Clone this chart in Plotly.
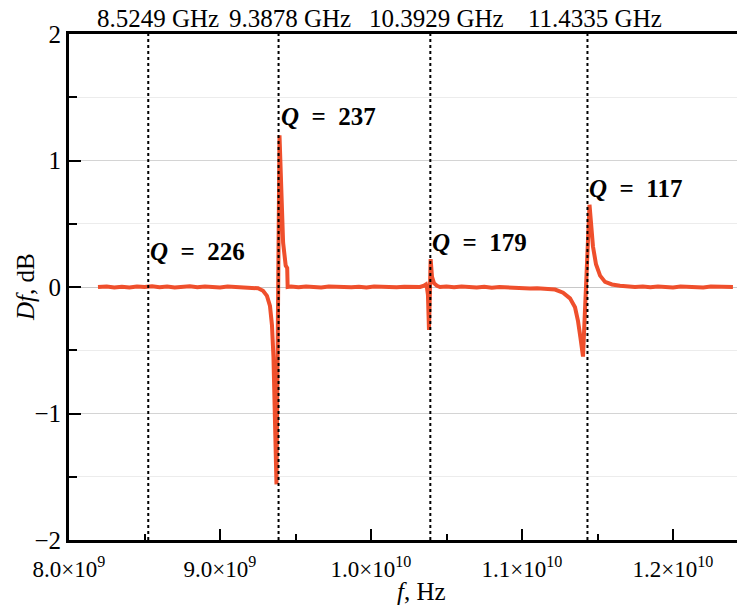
import plotly.graph_objects as go

# Frequency (GHz) and Df (dB)
freq_ghz = [8.192, 8.25, 8.30, 8.35, 8.40, 8.45, 8.50, 8.55, 8.60, 8.65, 8.70, 8.75, 8.80, 8.85,
            8.90, 8.95, 9.00, 9.05, 9.10, 9.15, 9.20, 9.252, 9.285, 9.311, 9.331, 9.344, 9.354,
            9.364, 9.371, 9.374, 9.394, 9.405, 9.418, 9.435, 9.445, 9.448, 9.47, 9.52, 9.57,
            9.62, 9.67, 9.72, 9.77, 9.82, 9.87, 9.92, 9.97, 10.02, 10.07, 10.12, 10.17, 10.22,
            10.27, 10.325, 10.351, 10.364, 10.371, 10.377, 10.384, 10.395, 10.404, 10.417,
            10.437, 10.457, 10.50, 10.55, 10.60, 10.65, 10.70, 10.75, 10.80, 10.85, 10.90,
            10.95, 11.00, 11.053, 11.10, 11.152, 11.219, 11.272, 11.318, 11.351, 11.371,
            11.387, 11.401, 11.404, 11.447, 11.457, 11.470, 11.490, 11.517, 11.550, 11.596,
            11.649, 11.70, 11.748, 11.80, 11.85, 11.90, 11.95, 12.00, 12.05, 12.10, 12.15,
            12.20, 12.25, 12.30, 12.35, 12.397]
df_db = [0.0, 0.004, -0.003, 0.002, -0.004, 0.003, 0.0, 0.005, -0.002, 0.004, -0.003, 0.002,
         0.005, -0.002, 0.003, 0.0, -0.003, 0.004, 0.001, -0.002, 0.0, -0.01, -0.03, -0.07,
         -0.15, -0.30, -0.55, -0.95, -1.30, -1.56, 1.20, 0.75, 0.35, 0.17, 0.15, 0.0, 0.003,
         -0.002, 0.004, 0.0, -0.003, 0.003, 0.0, 0.004, -0.002, 0.002, -0.003, 0.003, 0.0,
         0.004, -0.002, 0.002, 0.0, 0.0, 0.01, 0.02, -0.01, -0.06, -0.34, 0.22, 0.08, 0.03,
         0.01, 0.0, 0.003, -0.002, 0.004, 0.0, -0.003, 0.002, -0.005, 0.0, -0.004, -0.008,
         -0.01, -0.012, -0.01, -0.015, -0.02, -0.045, -0.09, -0.16, -0.27, -0.40, -0.55,
         -0.55, 0.65, 0.50, 0.32, 0.18, 0.09, 0.04, 0.02, 0.01, 0.005, 0.0, 0.004, -0.002,
         0.003, 0.0, -0.003, 0.004, 0.0, 0.002, -0.003, 0.003, 0.0, 0.002, 0.0]

marker_ghz = [8.5249, 9.3878, 10.3929, 11.4335]
marker_labels = ["8.5249 GHz", "9.3878 GHz", "10.3929 GHz", "11.4335 GHz"]
marker_label_shift = [10, 11, 6, 8]

q_values = [226, 237, 179, 117]
q_label_y = [0.28, 1.35, 0.35, 0.78]

x_tickvals = [8.0e9, 9.0e9, 1.0e10, 1.1e10, 1.2e10]
x_ticktext = ["8.0×10<sup>9</sup>", "9.0×10<sup>9</sup>", "1.0×10<sup>10</sup>",
              "1.1×10<sup>10</sup>", "1.2×10<sup>10</sup>"]
y_tickvals = [-2, -1, 0, 1, 2]
y_ticktext = ["−2", "−1", "0", "1", "2"]

FONT = "Liberation Serif"
LINE_COLOR = "#EF4F2C"

freq_hz = [f * 1e9 for f in freq_ghz]
marker_hz = [f * 1e9 for f in marker_ghz]

fig = go.Figure()
fig.add_trace(go.Scatter(x=freq_hz, y=df_db, mode="lines",
                         line=dict(color=LINE_COLOR, width=4), showlegend=False))

for m in marker_hz:
    fig.add_shape(type="line", xref="x", yref="paper", x0=m, x1=m, y0=0, y1=1,
                  line=dict(color="black", width=2, dash="dot"), layer="above")

annotations = []
for m, lab, sh in zip(marker_hz, marker_labels, marker_label_shift):
    annotations.append(dict(x=m, y=1, xref="x", yref="paper", text=lab, showarrow=False,
                            xanchor="center", yanchor="bottom", xshift=sh, yshift=0,
                            font=dict(family=FONT, size=25, color="black")))
for m, q, qy in zip(marker_hz, q_values, q_label_y):
    annotations.append(dict(x=m, y=qy, xref="x", yref="y",
                            text=f"<b><i>Q</i>&nbsp; =&nbsp; {q}</b>", showarrow=False,
                            xanchor="left", yanchor="middle", xshift=0,
                            font=dict(family=FONT, size=25, color="black")))
annotations.append(dict(x=(421 - 69) / (737 - 69), y=-51 / 506, xref="paper", yref="paper",
                        text="<i>f</i>, Hz", showarrow=False, xanchor="center",
                        yanchor="middle", font=dict(family=FONT, size=25, color="black")))
annotations.append(dict(x=(25 - 69) / (737 - 69), y=0.5, xref="paper", yref="paper",
                        text="<i>Df</i>, dB", showarrow=False, textangle=-90,
                        xanchor="center", yanchor="middle",
                        font=dict(family=FONT, size=25, color="black")))

fig.update_layout(
    width=737, height=605,
    margin=dict(l=69, r=0, t=34, b=65, autoexpand=False),
    plot_bgcolor="white", paper_bgcolor="white",
    font=dict(family=FONT, size=24, color="black"),
    annotations=annotations,
    xaxis=dict(range=[8.0e9, 12.4238e9], tickvals=x_tickvals, ticktext=x_ticktext,
               automargin=False, ticklabelstandoff=6,
               ticks="inside", ticklen=11, tickwidth=2, tickcolor="black",
               showline=True, linecolor="black", linewidth=3, mirror=True,
               showgrid=False, zeroline=False,
               minor=dict(ticks="inside", ticklen=6, tickwidth=2, tickcolor="black",
                          dtick=5e8, tick0=8e9, showgrid=False),
               tickfont=dict(family=FONT, size=23)),
    yaxis=dict(range=[-2, 2], tickvals=y_tickvals, ticktext=y_ticktext,
               automargin=False,
               ticks="inside", ticklen=12, tickwidth=2, tickcolor="black",
               showline=True, linecolor="black", linewidth=3,
               showgrid=True, gridcolor="#d4d4d4", gridwidth=1,
               zeroline=True, zerolinecolor="#c8c8c8", zerolinewidth=1,
               minor=dict(ticks="inside", ticklen=8, tickwidth=2, tickcolor="black",
                          dtick=0.5, tick0=0, showgrid=True, gridcolor="#ececec"),
               tickfont=dict(family=FONT, size=25)),
)

fig.write_html("out.html", config={"displayModeBar": False},
               post_script="document.body.style.margin='0';document.body.style.overflow='hidden';")
